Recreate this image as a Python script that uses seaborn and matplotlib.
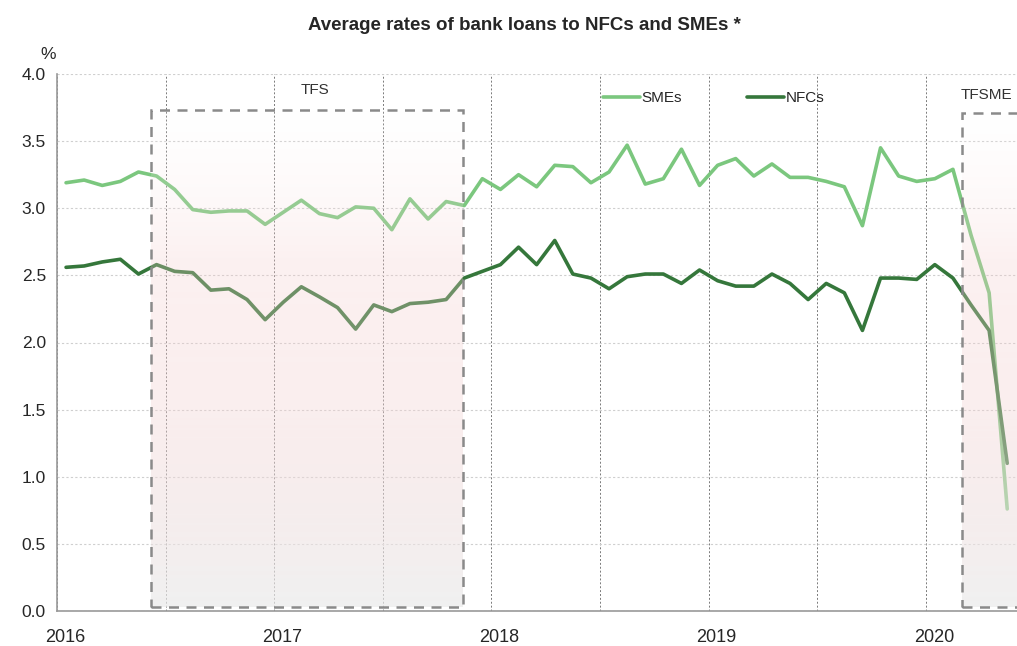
import numpy as np
import pandas as pd
import seaborn as sns
import matplotlib.pyplot as plt
from matplotlib.colors import LinearSegmentedColormap
from matplotlib.patches import Rectangle

# monthly average rates (%), Jan 2016 - May 2020
months = pd.date_range("2016-01-01", periods=53, freq="MS")
smes = [3.19, 3.21, 3.17, 3.20, 3.27, 3.24, 3.14, 2.99, 2.97, 2.98, 2.98, 2.88,
        2.97, 3.06, 2.96, 2.93, 3.01, 3.00, 2.84, 3.07, 2.92, 3.05, 3.02, 3.22,
        3.14, 3.25, 3.16, 3.32, 3.31, 3.19, 3.27, 3.47, 3.18, 3.22, 3.44, 3.17,
        3.32, 3.37, 3.24, 3.33, 3.23, 3.23, 3.20, 3.16, 2.87, 3.45, 3.24, 3.20,
        3.22, 3.29, 2.80, 2.37, 0.76]
nfcs = [2.56, 2.57, 2.60, 2.62, 2.51, 2.58, 2.53, 2.52, 2.39, 2.40, 2.32, 2.17,
        2.30, 2.415, 2.34, 2.26, 2.10, 2.28, 2.23, 2.29, 2.30, 2.32, 2.48, 2.53,
        2.58, 2.71, 2.58, 2.76, 2.51, 2.48, 2.40, 2.49, 2.51, 2.51, 2.44, 2.54,
        2.46, 2.42, 2.42, 2.51, 2.44, 2.32, 2.44, 2.37, 2.09, 2.48, 2.48, 2.47,
        2.58, 2.48, 2.28, 2.09, 1.10]
years = [2016, 2017, 2018, 2019, 2020]

# funding scheme windows (decimal years) and labels
schemes = [("TFS", 2016.435, 2017.868, 3.73, 2017.19, 3.88),
           ("TFSME", 2020.168, 2020.5, 3.71, 2020.28, 3.84)]

# x as mid-month decimal year
xdec = months.year + (months.month - 0.5) / 12.0
df = pd.DataFrame({
    "x": np.concatenate([xdec, xdec]),
    "rate": smes + nfcs,
    "series": ["SMEs"] * len(smes) + ["NFCs"] * len(nfcs),
})

sns.set_style("white")
plt.rcParams["font.family"] = ["Liberation Sans", "DejaVu Sans"]

fig = plt.figure(figsize=(10.17, 6.46), dpi=100)
ax = fig.add_axes([57 / 1017, 1 - 611 / 646, 1 - 57 / 1017, (611 - 74) / 646])

sns.lineplot(data=df, x="x", y="rate", hue="series", hue_order=["SMEs", "NFCs"],
             palette={"SMEs": "#7bc77e", "NFCs": "#35773b"}, linewidth=2.6,
             ax=ax, zorder=2)

ax.set_yticks(np.arange(0, 4.01, 0.5))
ax.set_yticklabels([f"{v:.1f}" for v in np.arange(0, 4.01, 0.5)], fontsize=12.5)
# half-year tick marks / gridlines; year labels sit slightly right of the tick
ax.set_xticks([y + h for y in years for h in (0.0, 0.5)][:-1], minor=True)
ax.set_xticks([y + 0.037 for y in years])
ax.set_xticklabels([str(y) for y in years], fontsize=13)
ax.set_xlabel("")
ax.set_ylabel("")

ax.grid(axis="y", color="#cfcfcf", linestyle=(0, (2, 2)), linewidth=0.8, zorder=0)
ax.grid(axis="x", which="major", visible=False)
ax.grid(axis="x", which="minor", color="#7a7a7a", linestyle=(0, (2, 2)), linewidth=0.7, zorder=0)
ax.tick_params(axis="x", which="minor", direction="out", length=5, color="#999999")
ax.tick_params(axis="x", which="major", length=0, pad=13)
ax.tick_params(axis="y", direction="out", length=5, color="#999999", pad=3)
for s in ["top", "right"]:
    ax.spines[s].set_visible(False)
for s in ["left", "bottom"]:
    ax.spines[s].set_color("#999999")
    ax.spines[s].set_linewidth(1.2)

# gradient shading over the scheme windows (white top -> pink -> grey bottom)
cmap = LinearSegmentedColormap.from_list("shade", [
    (0.0, (1.0, 1.0, 1.0, 0.10)),
    (0.3, (0.96, 0.80, 0.80, 0.28)),
    (0.6, (0.95, 0.83, 0.83, 0.38)),
    (1.0, (0.92, 0.92, 0.92, 0.70)),
])
grad = np.linspace(0, 1, 256).reshape(-1, 1)
for name, x0, x1, top, tx, ty in schemes:
    ax.imshow(grad, cmap=cmap, aspect="auto", extent=(x0, x1, 0.03, top),
              origin="upper", zorder=3)
    ax.add_patch(Rectangle((x0, 0.03), x1 - x0, top - 0.03, fill=False,
                           edgecolor="#8a8a8a", linestyle=(0, (4, 3)),
                           linewidth=1.8, zorder=4, clip_on=False))
    ax.text(tx, ty, name, fontsize=11, ha="center", va="center", color="#333333")
ax.set_xlim(2016, 2020.42)
ax.set_ylim(0, 4.0)

ax.legend(loc="center", bbox_to_anchor=(0.684, 0.955), ncol=2, frameon=False,
          fontsize=11, handlelength=2.4, handletextpad=0.1, columnspacing=4.3)

fig.text(0.047, 0.915, "%", fontsize=12.5, ha="center", va="center")
fig.text(0.516, 0.961, "Average rates of bank loans to NFCs and SMEs *", fontsize=13.5,
         fontweight="bold", ha="center", va="center")

fig.savefig("out.png", dpi=100)
